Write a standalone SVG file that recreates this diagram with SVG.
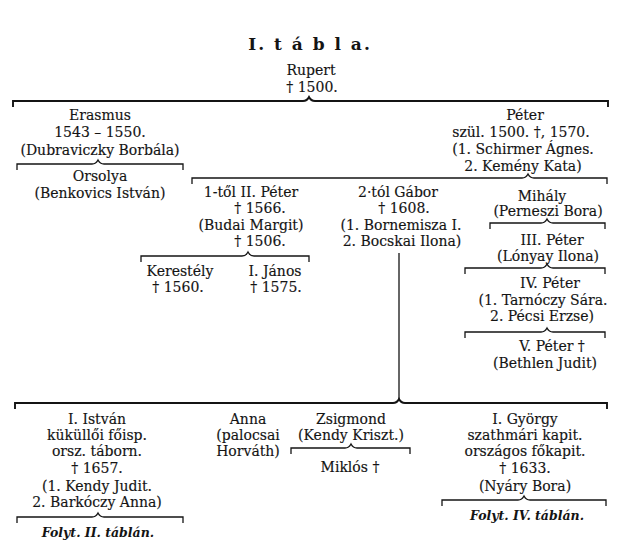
<svg xmlns="http://www.w3.org/2000/svg" width="622" height="549" viewBox="0 0 622 549">
<style>
text{font-family:"DejaVu Serif","Liberation Serif",serif;font-size:14px;fill:#141414;text-anchor:middle;stroke:#141414;stroke-width:0.15}
.t{font-size:17px;font-weight:bold;letter-spacing:2px;stroke-width:0}
.f{font-size:12.5px;font-style:italic;font-weight:bold;stroke-width:0}
.br{fill:none;stroke:#141414;stroke-width:1.3}
.thick{stroke-width:1.9}
</style>
<rect width="622" height="549" fill="#fff"/>
<text class="t" x="310" y="50">I. t á b l a.</text>
<g id="connectors">
<path class="br thick" d="M13 107 V101 H303 Q307 101 309 97 Q311 101 315 101 H608 V107"/>
<path class="br" d="M17 170 V164 H92 Q96 164 98 160 Q100 164 104 164 H183 V170"/>
<path class="br" d="M192 184 V178 H522 Q526 178 528 174 Q530 178 534 178 H607 V184"/>
<path class="br" d="M141 262 V256 H242 Q246 256 248 252 Q250 256 254 256 H309 V262"/>
<path class="br" d="M490 229 V223 H541 Q545 223 547 219 Q549 223 553 223 H605 V229"/>
<path class="br" d="M465 274 V268 H541 Q545 268 547 264 Q549 268 553 268 H605 V274"/>
<path class="br" d="M465 338 V332 H541 Q545 332 547 328 Q549 332 553 332 H605 V338"/>
<path class="br" d="M399 253 V399"/>
<path class="br thick" d="M15 409 V403 H393 Q397 403 399 399 Q401 403 405 403 H607 V409"/>
<path class="br" d="M291 454 V448 H345 Q349 448 351 444 Q353 448 357 448 H410 V454"/>
<path class="br" d="M17 523 V517 H92 Q96 517 98 513 Q100 517 104 517 H183 V523"/>
<path class="br" d="M442 506 V500 H518 Q522 500 524 496 Q526 500 530 500 H606 V506"/>
</g>
<g id="rupert"><text x="311" y="75">Rupert</text><text x="312" y="92">† 1500.</text></g>
<g id="erasmus"><text x="100" y="120">Erasmus</text><text x="100" y="137">1543 – 1550.</text><text x="100" y="155">(Dubraviczky Borbála)</text></g>
<g id="orsolya"><text x="100" y="181">Orsolya</text><text x="100" y="198">(Benkovics István)</text></g>
<g id="peter"><text x="525" y="120">Péter</text><text x="521" y="137">szül. 1500. †, 1570.</text><text x="523" y="154">(1. Schirmer Ágnes.</text><text x="523" y="171">2. Kemény Kata)</text></g>
<g id="peter2"><text x="251" y="197">1-től II. Péter</text><text x="260" y="213">† 1566.</text><text x="251" y="230">(Budai Margit)</text><text x="260" y="246">† 1506.</text></g>
<g id="kerestely"><text x="180" y="276">Kerestély</text><text x="178" y="292">† 1560.</text></g>
<g id="janos"><text x="275" y="276">I. János</text><text x="276" y="292">† 1575.</text></g>
<g id="gabor"><text x="398" y="197">2·tól Gábor</text><text x="404" y="213">† 1608.</text><text x="401" y="230">(1. Bornemisza I.</text><text x="402" y="246">2. Bocskai Ilona)</text></g>
<g id="mihaly"><text x="542" y="201">Mihály</text><text x="548" y="216">(Perneszi Bora)</text></g>
<g id="peter3"><text x="552" y="245">III. Péter</text><text x="548" y="261">(Lónyay Ilona)</text></g>
<g id="peter4"><text x="550" y="288">IV. Péter</text><text x="543" y="305">(1. Tarnóczy Sára.</text><text x="542" y="321">2. Pécsi Erzse)</text></g>
<g id="peter5"><text x="552" y="351">V. Péter †</text><text x="545" y="368">(Bethlen Judit)</text></g>
<g id="istvan"><text x="97" y="424">I. István</text><text x="97" y="440">küküllői főisp.</text><text x="97" y="456">orsz. táborn.</text><text x="97" y="473">† 1657.</text><text x="97" y="491">(1. Kendy Judit.</text><text x="97" y="507">2. Barkóczy Anna)</text></g>
<g id="folyt2"><text class="f" x="98" y="537">Folyt. II. táblán.</text></g>
<g id="anna"><text x="248" y="424">Anna</text><text x="248" y="440">(palocsai</text><text x="248" y="456">Horváth)</text></g>
<g id="zsigmond"><text x="351" y="424">Zsigmond</text><text x="351" y="440">(Kendy Kriszt.)</text></g>
<g id="miklos"><text x="350" y="472">Miklós †</text></g>
<g id="gyorgy"><text x="525" y="424">I. György</text><text x="525" y="440">szathmári kapit.</text><text x="525" y="456">országos főkapit.</text><text x="525" y="473">† 1633.</text><text x="525" y="491">(Nyáry Bora)</text></g>
<g id="folyt4"><text class="f" x="527" y="520">Folyt. IV. táblán.</text></g>
</svg>
